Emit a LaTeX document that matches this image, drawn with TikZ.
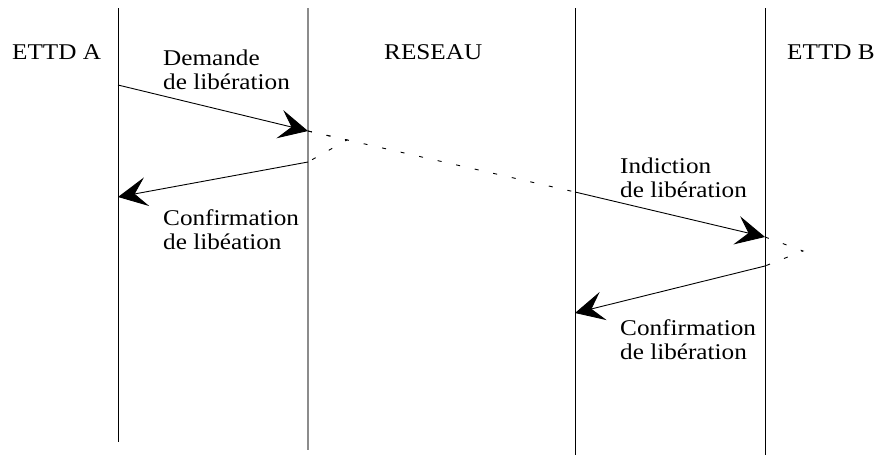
\documentclass[tikz,border=0pt]{standalone}
\usepackage{fontspec}
\setmainfont{Liberation Serif}[FakeStretch=1.12]
\usetikzlibrary{arrows.meta}
\begin{document}
\begin{tikzpicture}[x=1pt,y=-1pt,
  lifeline/.style={line width=1pt,black},
  netline/.style={line width=2pt,gray!90},
  msg/.style={line width=0.9pt,-{Stealth[length=29pt,width=29pt,inset=12pt]}},
  wait/.style={line width=0.9pt,dash pattern=on 4pt off 15pt},
  lbl/.style={inner sep=0pt,anchor=base west,align=left,font=\fontsize{22.5}{23.5}\selectfont}]
\useasboundingbox (0,0) rectangle (876,455);
% lifelines
\coordinate (a0) at (118,8);   \coordinate (a1) at (118,442);
\coordinate (n0) at (308,8);   \coordinate (n1) at (308,450);
\coordinate (m0) at (575,8);   \coordinate (m1) at (575,455);
\coordinate (b0) at (765,8);   \coordinate (b1) at (765,455);
\draw[lifeline] (a0) -- (a1);
\draw[netline] (n0) -- (n1);
\draw[lifeline] (m0) -- (m1);
\draw[lifeline] (b0) -- (b1);
% event points
\coordinate (p1) at (118,85);
\coordinate (p2) at (308,131);
\coordinate (p2c) at (347,140);
\coordinate (p3) at (308,162);
\coordinate (p4) at (118,197);
\coordinate (q1) at (575,192);
\coordinate (q2) at (765,237);
\coordinate (q2c) at (803,251);
\coordinate (q3) at (765,266);
\coordinate (q4) at (575,313);
% messages
\draw[msg] (p1) -- (p2);
\draw[wait] (p2) -- (q1);
\draw[wait] (p2) -- (p2c) -- (p3);
\draw[msg] (p3) -- (p4);
\draw[msg] (q1) -- (q2);
\draw[wait] (q2) -- (q2c) -- (q3);
\draw[msg] (q3) -- (q4);
% labels (anchor = baseline of last line)
\node[lbl] (la) at (12,59) {ETTD A};
\node[lbl] (ln) at (384,59) {RESEAU};
\node[lbl] (lb) at (787,59) {ETTD B};
\node[lbl] (t1) at (163,89) {Demande\\de libération};
\node[lbl] (t2) at (163,249) {Confirmation\\de libéation};
\node[lbl] (t3) at (620,197) {Indiction\\de libération};
\node[lbl] (t4) at (620,359) {Confirmation\\de libération};
\end{tikzpicture}
\end{document}
